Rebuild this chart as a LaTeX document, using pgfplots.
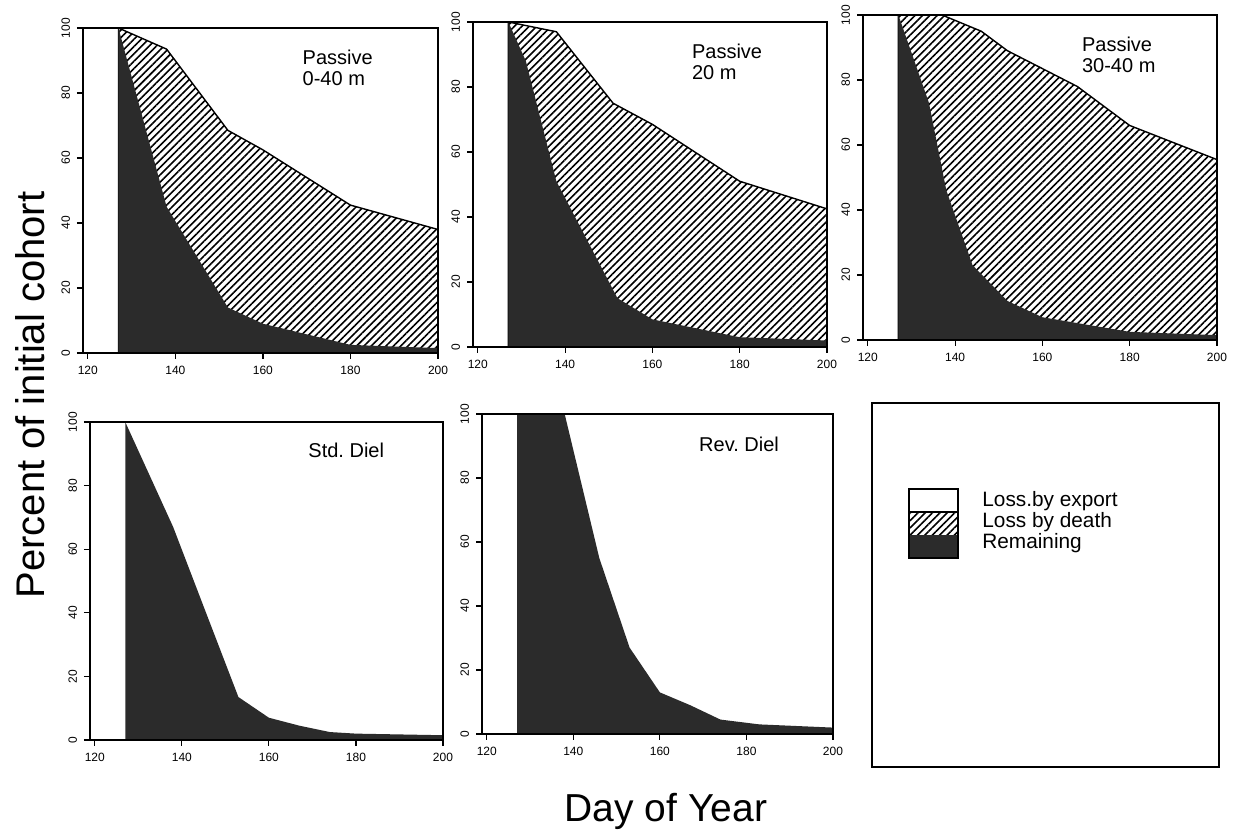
\documentclass[border=0pt]{standalone}
\usepackage{fontspec}
\setmainfont{Liberation Sans}
\usepackage{pgfplots}
\pgfplotsset{compat=1.18}
\usetikzlibrary{patterns.meta}

\definecolor{remain}{gray}{0.17}

\pgfplotsset{
  panel/.style={
    scale only axis,
    xmin=118.9, xmax=200, ymin=0, ymax=100,
    xtick={120,140,160,180,200},
    ytick={0,20,40,60,80,100},
    tick align=outside,
    major tick length=3pt,
    axis line style={line width=0.8pt},
    every tick/.style={line width=0.6pt, black},
    /pgf/number format/assume math mode=true,
    ticklabel style={font=\fontsize{6}{7}\selectfont},
    yticklabel style={rotate=90, anchor=south},
    xtick pos=bottom, ytick pos=left,
    axis on top,
  },
}
\tikzset{
  hatch/.style={draw=black, line width=0.7pt, pattern={Lines[angle=45,distance=2.6pt,line width=0.8pt]}},
  dark/.style={draw=none, fill=remain},
  lab/.style={font=\fontsize{10}{11}\selectfont, anchor=base west, inner sep=0pt},
}

\begin{document}
\frenchspacing
\begin{tikzpicture}
\path[use as bounding box] (0,0) rectangle (616.5pt,417.5pt);

% Panel 1
\begin{axis}[panel, at={(41.5pt,403.5pt)}, anchor=north west, width=177.5pt, height=162.5pt]
\addplot[hatch] coordinates {(127,100) (138,93.5) (152,68.5) (160,62.5) (180,45.5) (200,38)} \closedcycle;
\addplot[dark] coordinates {(127,100) (138,45) (152,14) (160,9) (180,2.5) (200,1.5)} \closedcycle;
\node[lab] at (axis cs:169,88.7) {Passive};
\node[lab] at (axis cs:169,82.2) {0-40 m};
\end{axis}

% Panel 2
\begin{axis}[panel, at={(236.5pt,406.5pt)}, anchor=north west, width=177pt, height=162.5pt]
\addplot[hatch] coordinates {(127,100) (138,97) (151,75) (160,68.5) (180,51) (200,42.5)} \closedcycle;
\addplot[dark] coordinates {(127,100) (131,88) (138,51) (152,15) (160,8.5) (180,3) (200,2)} \closedcycle;
\node[lab] at (axis cs:169,88.7) {Passive};
\node[lab] at (axis cs:169,82.2) {20 m};
\end{axis}

% Panel 3
\begin{axis}[panel, at={(431.5pt,410pt)}, anchor=north west, width=177pt, height=162.5pt]
\addplot[hatch] coordinates {(127,100) (137,100) (146,95) (152,89) (160,83.5) (168,78) (180,66) (200,55.5)} \closedcycle;
\addplot[dark] coordinates {(127,100) (134,73) (138,46) (144,23) (152,12) (160,7) (180,2.5) (200,1.5)} \closedcycle;
\node[lab] at (axis cs:169,88.7) {Passive};
\node[lab] at (axis cs:169,82.2) {30-40 m};
\end{axis}

% Panel 4
\begin{axis}[panel, at={(45pt,206.5pt)}, anchor=north west, width=176.5pt, height=159pt]
\addplot[dark] coordinates {(127,100) (138,67) (145,42) (153,13.5) (160,7) (167,4.5) (174,2.5) (180,2) (200,1.5)} \closedcycle;
\node[lab] at (axis cs:169,88.7) {Std. Diel};
\end{axis}

% Panel 5
\begin{axis}[panel, at={(241pt,210.5pt)}, anchor=north west, width=175.5pt, height=160pt]
\addplot[dark] coordinates {(127,100) (138,100) (146,55) (153,27) (160,13) (167,9) (174,4.5) (183,3) (200,2)} \closedcycle;
\node[lab] at (axis cs:169,88.4) {Rev. Diel};
\end{axis}

% Legend panel
\draw[line width=0.8pt] (436pt,216pt) rectangle (609.5pt,34pt);
\fill[white] (454.5pt,173pt) rectangle (479pt,161.5pt);
\path[pattern={Lines[angle=45,distance=2.6pt,line width=0.8pt]}] (454.5pt,161.5pt) rectangle (479pt,150pt);
\fill[remain] (454.5pt,150pt) rectangle (479pt,138.5pt);
\draw[line width=0.8pt] (454.5pt,173pt) rectangle (479pt,138.5pt);
\draw[line width=0.6pt] (454.5pt,161.5pt) -- (479pt,161.5pt);
\node[font=\fontsize{10.4}{11}\selectfont, anchor=base west, inner sep=0pt] at (491pt,164pt) {Loss.by export};
\node[font=\fontsize{10.4}{11}\selectfont, anchor=base west, inner sep=0pt] at (491pt,153.5pt) {Loss by death};
\node[font=\fontsize{10.4}{11}\selectfont, anchor=base west, inner sep=0pt] at (491pt,143pt) {Remaining};

% Shared axis labels
\node[font=\fontsize{19.5}{22}\selectfont, anchor=base, inner sep=0pt] at (333pt,6.5pt) {Day of Year};
\node[font=\fontsize{20}{22}\selectfont, anchor=base, rotate=90, inner sep=0pt] at (22.5pt,220pt) {Percent of initial cohort};
\end{tikzpicture}
\end{document}
